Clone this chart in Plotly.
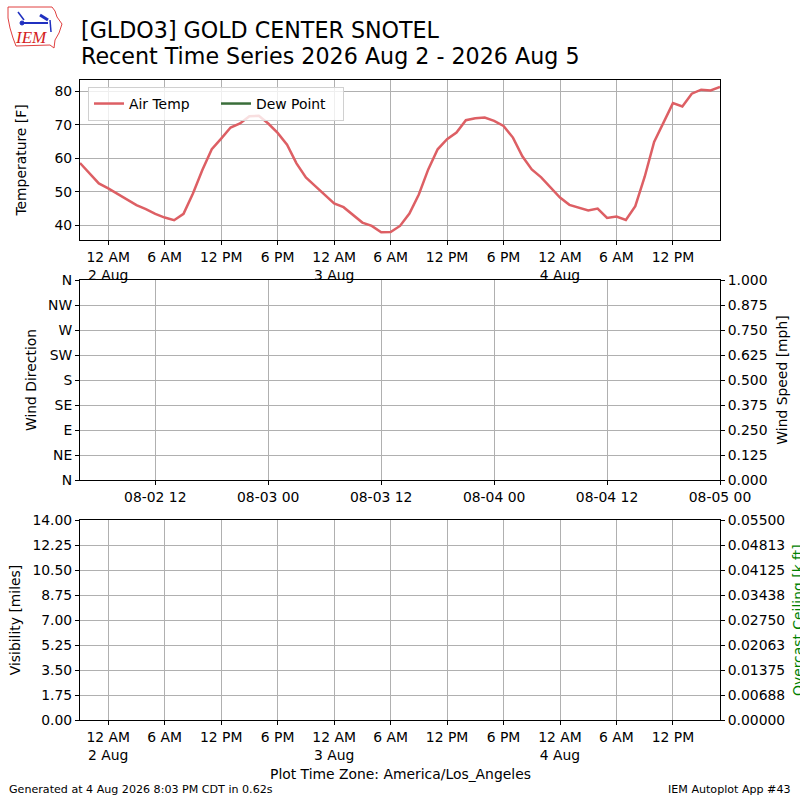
import pandas as pd
import plotly.graph_objects as go

# ---------------- data ----------------
start_local = "2026-08-01 21:00"   # America/Los_Angeles, hourly observations
air_temp = [58.6, 55.5, 52.5, 51.0, 49.3, 47.5, 46.0, 44.8, 43.4, 42.3,
            41.5, 43.4, 49.5, 56.5, 62.7, 65.9, 69.2, 70.4, 72.6, 72.7,
            70.4, 67.6, 64.1, 58.5, 54.3, 51.7, 49.0, 46.5, 45.4, 43.1,
            40.8, 39.8, 37.9, 38.0, 39.8, 43.5, 49.2, 56.7, 62.7, 65.7,
            67.7, 71.4, 72.0, 72.2, 71.2, 69.7, 66.2, 60.6, 56.7, 54.3,
            51.3, 48.3, 46.1, 45.2, 44.4, 45.0, 42.2, 42.6, 41.6, 45.7,
            54.5, 64.9, 70.6, 76.5, 75.5, 79.3, 80.5, 80.3, 81.3]
dew_point = []

time_ticks = ["2026-08-02 00:00", "2026-08-02 06:00", "2026-08-02 12:00", "2026-08-02 18:00",
              "2026-08-03 00:00", "2026-08-03 06:00", "2026-08-03 12:00", "2026-08-03 18:00",
              "2026-08-04 00:00", "2026-08-04 06:00", "2026-08-04 12:00"]
time_tick_labels = ["12 AM<br>2 Aug", "6 AM", "12 PM", "6 PM",
                    "12 AM<br>3 Aug", "6 AM", "12 PM", "6 PM",
                    "12 AM<br>4 Aug", "6 AM", "12 PM"]
utc_range = ["2026-08-02 04:00", "2026-08-05 00:00"]
utc_ticks = ["2026-08-02 12:00", "2026-08-03 00:00", "2026-08-03 12:00",
             "2026-08-04 00:00", "2026-08-04 12:00", "2026-08-05 00:00"]
utc_tick_labels = ["08-02 12", "08-03 00", "08-03 12", "08-04 00", "08-04 12", "08-05 00"]
dir_ticks = [0, 45, 90, 135, 180, 225, 270, 315, 360]
dir_labels = ["N", "NE", "E", "SE", "S", "SW", "W", "NW", "N"]
speed_ticks = [0, 0.125, 0.25, 0.375, 0.5, 0.625, 0.75, 0.875, 1.0]
vis_ticks = [0, 1.75, 3.5, 5.25, 7.0, 8.75, 10.5, 12.25, 14.0]
ceil_ticks = [0, 0.006875, 0.01375, 0.020625, 0.0275, 0.034375, 0.04125, 0.048125, 0.055]

times = pd.date_range(start=start_local, periods=len(air_temp), freq="h")
x_range = [times[0], times[-1]]

FONT = "DejaVu Sans"
RED = "#dd5f64"
GREEN = "#3a6e3a"
GRID = "#b0b0b0"
FS = 13.9

fig = go.Figure()
fig.add_trace(go.Scatter(x=times, y=air_temp, mode="lines", name="Air Temp",
                         line=dict(color=RED, width=2.5), xaxis="x", yaxis="y"))
fig.add_trace(go.Scatter(x=[None], y=[None], mode="lines", name="Dew Point",
                         line=dict(color=GREEN, width=2.5), xaxis="x", yaxis="y"))
# empty panels
fig.add_trace(go.Scatter(x=[], y=[], xaxis="x2", yaxis="y2", showlegend=False))
fig.add_trace(go.Scatter(x=[], y=[], xaxis="x2", yaxis="y3", showlegend=False))
fig.add_trace(go.Scatter(x=[], y=[], xaxis="x3", yaxis="y4", showlegend=False))
fig.add_trace(go.Scatter(x=[], y=[], xaxis="x3", yaxis="y5", showlegend=False))

def px2paper_x(px):
    return (px - 80) / 640.0

def px2paper_y(py):
    return (720 - py) / 640.0

axis_common = dict(showline=True, linecolor="black", linewidth=1, mirror=True,
                   ticks="outside", ticklen=4, tickcolor="black",
                   showgrid=True, gridcolor=GRID, gridwidth=1, zeroline=False,
                   tickfont=dict(family=FONT, size=FS, color="black"))
right_common = dict(showline=False, ticks="outside", ticklen=4, tickcolor="black",
                    showgrid=False, zeroline=False,
                    tickfont=dict(family=FONT, size=FS, color="black"))

fig.update_layout(
    width=800, height=800,
    margin=dict(l=80, r=80, t=80, b=80),
    paper_bgcolor="white", plot_bgcolor="white",
    font=dict(family=FONT, size=FS, color="black"),
    xaxis=dict(type="date", domain=[0, 1], anchor="y", range=x_range, tickmode="array",
               tickvals=time_ticks, ticktext=time_tick_labels, **axis_common),
    yaxis=dict(domain=[px2paper_y(240), 1.0], anchor="x", range=[35.6, 83.4],
               tickvals=[40, 50, 60, 70, 80],
               title=dict(text="Temperature [F]", font=dict(size=FS), standoff=24),
               **axis_common),
    xaxis2=dict(type="date", domain=[0, 1], anchor="y2", range=utc_range, tickmode="array",
                tickvals=utc_ticks, ticktext=utc_tick_labels, **axis_common),
    yaxis2=dict(domain=[px2paper_y(480), px2paper_y(280)], anchor="x2", range=[0, 360],
                tickmode="array", tickvals=dir_ticks, ticktext=dir_labels,
                title=dict(text="Wind Direction", font=dict(size=FS), standoff=8),
                **axis_common),
    yaxis3=dict(overlaying="y2", side="right", anchor="x2", range=[0, 1],
                tickmode="array", tickvals=speed_ticks, tickformat=".3f",
                title=dict(text="Wind Speed [mph]", font=dict(size=FS), standoff=10),
                **right_common),
    xaxis3=dict(type="date", domain=[0, 1], anchor="y4", range=x_range, tickmode="array",
                tickvals=time_ticks, ticktext=time_tick_labels, **axis_common),
    yaxis4=dict(domain=[0, px2paper_y(520)], anchor="x3", range=[0, 14],
                tickmode="array", tickvals=vis_ticks, tickformat=".2f",
                title=dict(text="Visibility [miles]", font=dict(size=FS), standoff=8),
                **axis_common),
    yaxis5=dict(overlaying="y4", side="right", anchor="x3", range=[0, 0.055],
                tickmode="array", tickvals=ceil_ticks, tickformat=".5f",
                **right_common),
    legend=dict(x=px2paper_x(88), y=px2paper_y(87), xanchor="left", yanchor="top",
                orientation="h", bgcolor="rgba(255,255,255,0.8)",
                bordercolor="#d0d0d0", borderwidth=1,
                font=dict(family=FONT, size=FS, color="black"),
                itemwidth=30, entrywidthmode="pixels", entrywidth=82),
    showlegend=True,
)

annotations = [
    dict(text="[GLDO3] GOLD CENTER SNOTEL", x=px2paper_x(79), y=px2paper_y(30),
         xanchor="left", yanchor="middle", font=dict(family=FONT, size=22.2, color="black")),
    dict(text="Recent Time Series 2026 Aug 2 - 2026 Aug 5", x=px2paper_x(79), y=px2paper_y(56),
         xanchor="left", yanchor="middle", font=dict(family=FONT, size=22.2, color="black")),
    dict(text="Plot Time Zone: America/Los_Angeles", x=0.5, y=px2paper_y(774),
         xanchor="center", yanchor="middle", font=dict(family=FONT, size=FS, color="black")),
    dict(text="Generated at 4 Aug 2026 8:03 PM CDT in 0.62s", x=px2paper_x(7), y=px2paper_y(789),
         xanchor="left", yanchor="middle", font=dict(family=FONT, size=11.1, color="black")),
    dict(text="IEM Autoplot App #43", x=px2paper_x(793), y=px2paper_y(789),
         xanchor="right", yanchor="middle", font=dict(family=FONT, size=11.1, color="black")),
    dict(text="Overcast Ceiling [k ft]", x=px2paper_x(798), y=px2paper_y(620),
         xanchor="center", yanchor="middle", textangle=-90,
         font=dict(family=FONT, size=FS, color="green")),
    dict(text="<i>IEM</i>", x=px2paper_x(31), y=px2paper_y(38),
         xanchor="center", yanchor="middle",
         font=dict(family="Liberation Serif", size=17, color="#d42020")),
]
for a in annotations:
    a.update(xref="paper", yref="paper", showarrow=False)
fig.update_layout(annotations=annotations)

# IEM logo (Iowa outline + symbol)
outline = [(8, 7), (52, 7), (55, 11), (57, 17), (62, 24), (59, 33), (55, 40),
           (54, 48), (50, 45), (16, 46), (13, 38), (10, 28), (8, 18), (8, 7)]
path = "M " + " L ".join(f"{px2paper_x(a)},{px2paper_y(b)}" for a, b in outline) + " Z"
shapes = [
    dict(type="path", path=path, line=dict(color="#e04040", width=1)),
    dict(type="line", x0=px2paper_x(22), y0=px2paper_y(23), x1=px2paper_x(48), y1=px2paper_y(23),
         line=dict(color="#2030c0", width=2)),
    dict(type="line", x0=px2paper_x(18), y0=px2paper_y(12), x1=px2paper_x(24), y1=px2paper_y(20),
         line=dict(color="#2030c0", width=1.5)),
    dict(type="line", x0=px2paper_x(40), y0=px2paper_y(15), x1=px2paper_x(48), y1=px2paper_y(20),
         line=dict(color="#2030c0", width=3)),
    dict(type="line", x0=px2paper_x(50), y0=px2paper_y(20), x1=px2paper_x(51), y1=px2paper_y(32),
         line=dict(color="#2030c0", width=1.5)),
    dict(type="circle", x0=px2paper_x(20), y0=px2paper_y(21), x1=px2paper_x(24), y1=px2paper_y(25),
         fillcolor="#2030c0", line=dict(color="#2030c0", width=1)),
]
for s in shapes:
    s.update(xref="paper", yref="paper")
fig.update_layout(shapes=shapes)

fig.write_html("out.html", config={"displayModeBar": False},
               post_script="document.body.style.margin='0';document.body.style.padding='0';")
